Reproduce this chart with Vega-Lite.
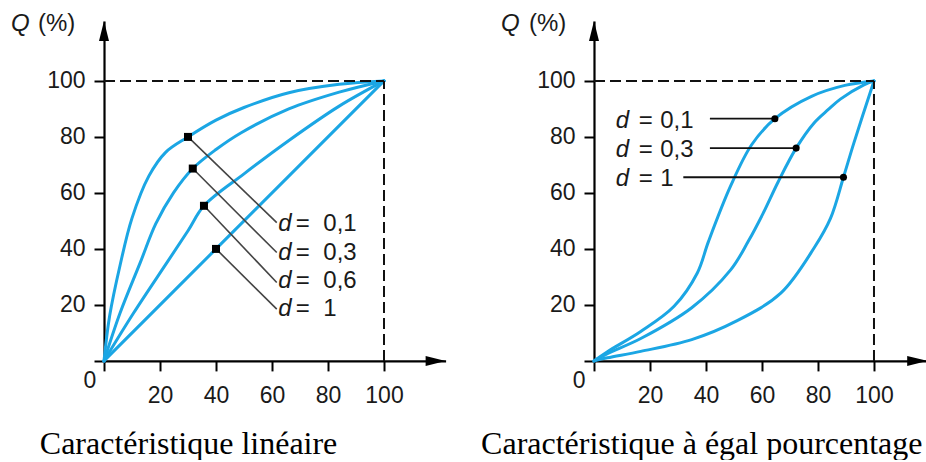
{
  "$schema": "https://vega.github.io/schema/vega-lite/v6.json",
  "background": "white",
  "padding": {"left": 11, "top": 11, "right": 0, "bottom": 0},
  "spacing": 35,
  "config": {"view": {"stroke": null}},
  "datasets": {
    "lineaire": [
      {"d": "0,1", "x": 0, "q": 0}, {"d": "0,1", "x": 2, "q": 16}, {"d": "0,1", "x": 5.7, "q": 34},
      {"d": "0,1", "x": 10, "q": 51}, {"d": "0,1", "x": 16, "q": 66}, {"d": "0,1", "x": 22, "q": 74.5},
      {"d": "0,1", "x": 30, "q": 80}, {"d": "0,1", "x": 40, "q": 86}, {"d": "0,1", "x": 50, "q": 90.5},
      {"d": "0,1", "x": 66, "q": 95.8}, {"d": "0,1", "x": 84, "q": 98.8}, {"d": "0,1", "x": 100, "q": 100},
      {"d": "0,3", "x": 0, "q": 0}, {"d": "0,3", "x": 5.7, "q": 17}, {"d": "0,3", "x": 12.9, "q": 35},
      {"d": "0,3", "x": 18.5, "q": 49}, {"d": "0,3", "x": 24.8, "q": 60}, {"d": "0,3", "x": 31.7, "q": 68.7},
      {"d": "0,3", "x": 40, "q": 75.5}, {"d": "0,3", "x": 49, "q": 81.5}, {"d": "0,3", "x": 66, "q": 90},
      {"d": "0,3", "x": 84, "q": 96}, {"d": "0,3", "x": 100, "q": 100},
      {"d": "0,6", "x": 0, "q": 0}, {"d": "0,6", "x": 10.5, "q": 17}, {"d": "0,6", "x": 22.4, "q": 35},
      {"d": "0,6", "x": 30, "q": 46.5}, {"d": "0,6", "x": 35.7, "q": 55.4}, {"d": "0,6", "x": 50, "q": 66.8},
      {"d": "0,6", "x": 66.4, "q": 79}, {"d": "0,6", "x": 84, "q": 91}, {"d": "0,6", "x": 100, "q": 100},
      {"d": "1", "x": 0, "q": 0}, {"d": "1", "x": 40, "q": 40}, {"d": "1", "x": 100, "q": 100}
    ],
    "lineaire_labels": [
      {"d": "0,1", "mx": 30, "my": 80, "lx": 61.7, "ly": 49.4, "tx": 62.25, "ty": 46.5},
      {"d": "0,3", "mx": 31.7, "my": 68.7, "lx": 61.7, "ly": 38.7, "tx": 62.25, "ty": 36.2},
      {"d": "0,6", "mx": 35.7, "my": 55.4, "lx": 61.7, "ly": 28, "tx": 62.25, "ty": 25.9},
      {"d": "1", "mx": 40, "my": 40, "lx": 61.7, "ly": 18.5, "tx": 62.25, "ty": 15.9}
    ],
    "egal": [
      {"d": "0,1", "x": 0, "q": 0}, {"d": "0,1", "x": 4.8, "q": 3.3}, {"d": "0,1", "x": 16.7, "q": 10.5},
      {"d": "0,1", "x": 28.6, "q": 19.5}, {"d": "0,1", "x": 36.9, "q": 31.4}, {"d": "0,1", "x": 40.9, "q": 42.7},
      {"d": "0,1", "x": 48.8, "q": 62.5}, {"d": "0,1", "x": 56.3, "q": 77.2}, {"d": "0,1", "x": 64.6, "q": 86.5},
      {"d": "0,1", "x": 77.7, "q": 94.5}, {"d": "0,1", "x": 89.6, "q": 98.4}, {"d": "0,1", "x": 100, "q": 100},
      {"d": "0,3", "x": 0, "q": 0}, {"d": "0,3", "x": 4.8, "q": 2.6}, {"d": "0,3", "x": 16.7, "q": 8},
      {"d": "0,3", "x": 34.9, "q": 19}, {"d": "0,3", "x": 48.8, "q": 32.5}, {"d": "0,3", "x": 55.1, "q": 42.7},
      {"d": "0,3", "x": 60.3, "q": 52.5}, {"d": "0,3", "x": 65.8, "q": 64}, {"d": "0,3", "x": 72.2, "q": 76},
      {"d": "0,3", "x": 78.6, "q": 85}, {"d": "0,3", "x": 83.7, "q": 89.8}, {"d": "0,3", "x": 88, "q": 93.5},
      {"d": "0,3", "x": 96.4, "q": 98.6}, {"d": "0,3", "x": 100, "q": 100},
      {"d": "1", "x": 0, "q": 0}, {"d": "1", "x": 4.8, "q": 1.1}, {"d": "1", "x": 16.7, "q": 3.4},
      {"d": "1", "x": 34.9, "q": 7.6}, {"d": "1", "x": 50.6, "q": 14.1}, {"d": "1", "x": 66.7, "q": 24.2},
      {"d": "1", "x": 78.7, "q": 40.5}, {"d": "1", "x": 84.5, "q": 51}, {"d": "1", "x": 89.1, "q": 65.6},
      {"d": "1", "x": 92.8, "q": 77.8}, {"d": "1", "x": 100, "q": 100}
    ],
    "egal_labels": [
      {"d": "0,1", "mx": 64.6, "my": 86.5, "lx": 41.4, "tx": 7.75, "ty": 83.1},
      {"d": "0,3", "mx": 72.2, "my": 76, "lx": 41.4, "tx": 7.75, "ty": 72.7},
      {"d": "1", "mx": 89.1, "my": 65.6, "lx": 31.9, "tx": 7.75, "ty": 62.6}
    ]
  },
  "hconcat": [
    {
      "width": 341.6,
      "height": 339.92,
      "resolve": {"axis": {"x": "independent", "y": "independent"}},
      "layer": [
        {
          "data": {"name": "lineaire"},
          "mark": {"type": "line", "interpolate": "catmull-rom", "strokeWidth": 3, "color": "#1ba6e4", "strokeCap": "round"},
          "encoding": {
            "x": {
              "field": "x", "type": "quantitative",
              "scale": {"domain": [0, 122], "nice": false},
              "axis": {"values": [0, 20, 40, 60, 80, 100], "labelExpr": "datum.value === 0 ? '' : datum.label", "title": null, "grid": false,
                       "domainColor": "#000", "domainWidth": 2.2, "tickColor": "#000", "tickWidth": 2, "tickSize": 10,
                       "labelFont": "Liberation Sans", "labelFontSize": 23, "labelColor": "#1a1a1a", "labelPadding": 14,
                       "labelFlush": false, "labelOverlap": false}
            },
            "y": {
              "field": "q", "type": "quantitative",
              "scale": {"domain": [0, 121.4], "nice": false},
              "axis": {"values": [0, 20, 40, 60, 80, 100], "labelExpr": "datum.value === 0 ? '' : datum.label", "title": null, "grid": false,
                       "domainColor": "#000", "domainWidth": 2.2, "tickColor": "#000", "tickWidth": 2, "tickSize": 10,
                       "labelFont": "Liberation Sans", "labelFontSize": 23, "labelColor": "#1a1a1a", "labelPadding": 9,
                       "labelFlush": false, "labelOverlap": false}
            },
            "detail": {"field": "d"}
          }
        },
        {
          "data": {"values": [{}]},
          "mark": {"type": "rule", "strokeDash": [11, 5], "strokeWidth": 2, "color": "#111"},
          "encoding": {
            "x": {"datum": 0, "scale": {"domain": [0, 122], "nice": false}, "axis": null},
            "x2": {"datum": 100},
            "y": {"datum": 100, "scale": {"domain": [0, 121.4], "nice": false}, "axis": null}
          }
        },
        {
          "data": {"values": [{}]},
          "mark": {"type": "rule", "strokeDash": [11, 5], "strokeWidth": 2, "color": "#111"},
          "encoding": {
            "x": {"datum": 100, "scale": {"domain": [0, 122], "nice": false}, "axis": null},
            "y": {"datum": 0, "scale": {"domain": [0, 121.4], "nice": false}, "axis": null},
            "y2": {"datum": 100}
          }
        },
        {
          "data": {"name": "lineaire_labels"},
          "mark": {"type": "rule", "color": "#444", "strokeWidth": 1.6},
          "encoding": {
            "x": {"field": "mx", "type": "quantitative", "scale": {"domain": [0, 122], "nice": false}, "axis": null},
            "y": {"field": "my", "type": "quantitative", "scale": {"domain": [0, 121.4], "nice": false}, "axis": null},
            "x2": {"field": "lx"},
            "y2": {"field": "ly"}
          }
        },
        {
          "data": {"name": "lineaire_labels"},
          "mark": {"type": "point", "shape": "square", "filled": true, "size": 64, "color": "#000", "opacity": 1},
          "encoding": {
            "x": {"field": "mx", "type": "quantitative", "scale": {"domain": [0, 122], "nice": false}, "axis": null},
            "y": {"field": "my", "type": "quantitative", "scale": {"domain": [0, 121.4], "nice": false}, "axis": null}
          }
        },
        {
          "data": {"name": "lineaire_labels"},
          "mark": {"type": "text", "text": "d", "font": "Liberation Sans", "fontStyle": "italic", "fontSize": 24, "align": "left", "baseline": "alphabetic", "color": "#1a1a1a"},
          "encoding": {
            "x": {"field": "tx", "type": "quantitative", "scale": {"domain": [0, 122], "nice": false}, "axis": null},
            "y": {"field": "ty", "type": "quantitative", "scale": {"domain": [0, 121.4], "nice": false}, "axis": null}
          }
        },
        {
          "data": {"name": "lineaire_labels"},
          "mark": {"type": "text", "text": "=", "dx": 17.5, "font": "Liberation Sans", "fontSize": 24, "align": "left", "baseline": "alphabetic", "color": "#1a1a1a"},
          "encoding": {
            "x": {"field": "tx", "type": "quantitative", "scale": {"domain": [0, 122], "nice": false}, "axis": null},
            "y": {"field": "ty", "type": "quantitative", "scale": {"domain": [0, 121.4], "nice": false}, "axis": null}
          }
        },
        {
          "data": {"name": "lineaire_labels"},
          "mark": {"type": "text", "dx": 45, "font": "Liberation Sans", "fontSize": 24, "align": "left", "baseline": "alphabetic", "color": "#1a1a1a"},
          "encoding": {
            "x": {"field": "tx", "type": "quantitative", "scale": {"domain": [0, 122], "nice": false}, "axis": null},
            "y": {"field": "ty", "type": "quantitative", "scale": {"domain": [0, 121.4], "nice": false}, "axis": null},
            "text": {"field": "d"}
          }
        },
        {
          "data": {"values": [{}]},
          "mark": {"type": "point", "shape": "M0,0L0.5,2L-0.5,2Z", "filled": true, "size": 400, "color": "#000", "opacity": 1, "strokeWidth": 0},
          "encoding": {
            "x": {"datum": 0, "scale": {"domain": [0, 122], "nice": false}, "axis": null},
            "y": {"datum": 121.4, "scale": {"domain": [0, 121.4], "nice": false}, "axis": null}
          }
        },
        {
          "data": {"values": [{}]},
          "mark": {"type": "point", "shape": "M0,0L-2,-0.5L-2,0.5Z", "filled": true, "size": 400, "color": "#000", "opacity": 1, "strokeWidth": 0},
          "encoding": {
            "x": {"datum": 122, "scale": {"domain": [0, 122], "nice": false}, "axis": null},
            "y": {"datum": 0, "scale": {"domain": [0, 121.4], "nice": false}, "axis": null}
          }
        },
        {
          "data": {"values": [{}]},
          "mark": {"type": "text", "text": "Q", "font": "Liberation Sans", "fontStyle": "italic", "fontSize": 24, "align": "left", "baseline": "alphabetic", "color": "#1a1a1a"},
          "encoding": {
            "x": {"datum": -33.2, "scale": {"domain": [0, 122], "nice": false}, "axis": null},
            "y": {"datum": 117.9, "scale": {"domain": [0, 121.4], "nice": false}, "axis": null}
          }
        },
        {
          "data": {"values": [{}]},
          "mark": {"type": "text", "text": "(%)", "dx": 27, "font": "Liberation Sans", "fontSize": 24, "align": "left", "baseline": "alphabetic", "color": "#1a1a1a"},
          "encoding": {
            "x": {"datum": -33.2, "scale": {"domain": [0, 122], "nice": false}, "axis": null},
            "y": {"datum": 117.9, "scale": {"domain": [0, 121.4], "nice": false}, "axis": null}
          }
        },
        {
          "data": {"values": [{}]},
          "mark": {"type": "text", "text": "0", "font": "Liberation Sans", "fontSize": 23, "align": "center", "baseline": "alphabetic", "color": "#1a1a1a"},
          "encoding": {
            "x": {"datum": -5, "scale": {"domain": [0, 122], "nice": false}, "axis": null},
            "y": {"datum": -9.8, "scale": {"domain": [0, 121.4], "nice": false}, "axis": null}
          }
        },
        {
          "data": {"values": [{}]},
          "mark": {"type": "text", "text": "Caractéristique linéaire", "font": "Liberation Serif", "fontSize": 32, "align": "center", "baseline": "alphabetic", "color": "#000"},
          "encoding": {
            "x": {"datum": 30.2, "scale": {"domain": [0, 122], "nice": false}, "axis": null},
            "y": {"datum": -33.2, "scale": {"domain": [0, 121.4], "nice": false}, "axis": null}
          }
        }
      ]
    },
    {
      "width": 333.2,
      "height": 339.92,
      "resolve": {"axis": {"x": "independent", "y": "independent"}},
      "layer": [
        {
          "data": {"name": "egal"},
          "mark": {"type": "line", "interpolate": "catmull-rom", "strokeWidth": 3, "color": "#1ba6e4", "strokeCap": "round"},
          "encoding": {
            "x": {
              "field": "x", "type": "quantitative",
              "scale": {"domain": [0, 119], "nice": false},
              "axis": {"values": [0, 20, 40, 60, 80, 100], "labelExpr": "datum.value === 0 ? '' : datum.label", "title": null, "grid": false,
                       "domainColor": "#000", "domainWidth": 2.2, "tickColor": "#000", "tickWidth": 2, "tickSize": 10,
                       "labelFont": "Liberation Sans", "labelFontSize": 23, "labelColor": "#1a1a1a", "labelPadding": 14,
                       "labelFlush": false, "labelOverlap": false}
            },
            "y": {
              "field": "q", "type": "quantitative",
              "scale": {"domain": [0, 121.4], "nice": false},
              "axis": {"values": [0, 20, 40, 60, 80, 100], "labelExpr": "datum.value === 0 ? '' : datum.label", "title": null, "grid": false,
                       "domainColor": "#000", "domainWidth": 2.2, "tickColor": "#000", "tickWidth": 2, "tickSize": 10,
                       "labelFont": "Liberation Sans", "labelFontSize": 23, "labelColor": "#1a1a1a", "labelPadding": 9,
                       "labelFlush": false, "labelOverlap": false}
            },
            "detail": {"field": "d"}
          }
        },
        {
          "data": {"values": [{}]},
          "mark": {"type": "rule", "strokeDash": [11, 5], "strokeWidth": 2, "color": "#111"},
          "encoding": {
            "x": {"datum": 0, "scale": {"domain": [0, 119], "nice": false}, "axis": null},
            "x2": {"datum": 100},
            "y": {"datum": 100, "scale": {"domain": [0, 121.4], "nice": false}, "axis": null}
          }
        },
        {
          "data": {"values": [{}]},
          "mark": {"type": "rule", "strokeDash": [11, 5], "strokeWidth": 2, "color": "#111"},
          "encoding": {
            "x": {"datum": 100, "scale": {"domain": [0, 119], "nice": false}, "axis": null},
            "y": {"datum": 0, "scale": {"domain": [0, 121.4], "nice": false}, "axis": null},
            "y2": {"datum": 100}
          }
        },
        {
          "data": {"name": "egal_labels"},
          "mark": {"type": "rule", "color": "#111", "strokeWidth": 1.8},
          "encoding": {
            "x": {"field": "lx", "type": "quantitative", "scale": {"domain": [0, 119], "nice": false}, "axis": null},
            "x2": {"field": "mx"},
            "y": {"field": "my", "type": "quantitative", "scale": {"domain": [0, 121.4], "nice": false}, "axis": null}
          }
        },
        {
          "data": {"name": "egal_labels"},
          "mark": {"type": "point", "shape": "circle", "filled": true, "size": 50, "color": "#000", "opacity": 1},
          "encoding": {
            "x": {"field": "mx", "type": "quantitative", "scale": {"domain": [0, 119], "nice": false}, "axis": null},
            "y": {"field": "my", "type": "quantitative", "scale": {"domain": [0, 121.4], "nice": false}, "axis": null}
          }
        },
        {
          "data": {"name": "egal_labels"},
          "mark": {"type": "text", "text": "d", "font": "Liberation Sans", "fontStyle": "italic", "fontSize": 24, "align": "left", "baseline": "alphabetic", "color": "#1a1a1a"},
          "encoding": {
            "x": {"field": "tx", "type": "quantitative", "scale": {"domain": [0, 119], "nice": false}, "axis": null},
            "y": {"field": "ty", "type": "quantitative", "scale": {"domain": [0, 121.4], "nice": false}, "axis": null}
          }
        },
        {
          "data": {"name": "egal_labels"},
          "mark": {"type": "text", "text": "=", "dx": 23, "font": "Liberation Sans", "fontSize": 24, "align": "left", "baseline": "alphabetic", "color": "#1a1a1a"},
          "encoding": {
            "x": {"field": "tx", "type": "quantitative", "scale": {"domain": [0, 119], "nice": false}, "axis": null},
            "y": {"field": "ty", "type": "quantitative", "scale": {"domain": [0, 121.4], "nice": false}, "axis": null}
          }
        },
        {
          "data": {"name": "egal_labels"},
          "mark": {"type": "text", "dx": 44.5, "font": "Liberation Sans", "fontSize": 24, "align": "left", "baseline": "alphabetic", "color": "#1a1a1a"},
          "encoding": {
            "x": {"field": "tx", "type": "quantitative", "scale": {"domain": [0, 119], "nice": false}, "axis": null},
            "y": {"field": "ty", "type": "quantitative", "scale": {"domain": [0, 121.4], "nice": false}, "axis": null},
            "text": {"field": "d"}
          }
        },
        {
          "data": {"values": [{}]},
          "mark": {"type": "point", "shape": "M0,0L0.5,2L-0.5,2Z", "filled": true, "size": 400, "color": "#000", "opacity": 1, "strokeWidth": 0},
          "encoding": {
            "x": {"datum": 0, "scale": {"domain": [0, 119], "nice": false}, "axis": null},
            "y": {"datum": 121.4, "scale": {"domain": [0, 121.4], "nice": false}, "axis": null}
          }
        },
        {
          "data": {"values": [{}]},
          "mark": {"type": "point", "shape": "M0,0L-2,-0.5L-2,0.5Z", "filled": true, "size": 400, "color": "#000", "opacity": 1, "strokeWidth": 0},
          "encoding": {
            "x": {"datum": 119, "scale": {"domain": [0, 119], "nice": false}, "axis": null},
            "y": {"datum": 0, "scale": {"domain": [0, 121.4], "nice": false}, "axis": null}
          }
        },
        {
          "data": {"values": [{}]},
          "mark": {"type": "text", "text": "Q", "font": "Liberation Sans", "fontStyle": "italic", "fontSize": 24, "align": "left", "baseline": "alphabetic", "color": "#1a1a1a"},
          "encoding": {
            "x": {"datum": -33.2, "scale": {"domain": [0, 119], "nice": false}, "axis": null},
            "y": {"datum": 117.9, "scale": {"domain": [0, 121.4], "nice": false}, "axis": null}
          }
        },
        {
          "data": {"values": [{}]},
          "mark": {"type": "text", "text": "(%)", "dx": 28, "font": "Liberation Sans", "fontSize": 24, "align": "left", "baseline": "alphabetic", "color": "#1a1a1a"},
          "encoding": {
            "x": {"datum": -33.2, "scale": {"domain": [0, 119], "nice": false}, "axis": null},
            "y": {"datum": 117.9, "scale": {"domain": [0, 121.4], "nice": false}, "axis": null}
          }
        },
        {
          "data": {"values": [{}]},
          "mark": {"type": "text", "text": "0", "font": "Liberation Sans", "fontSize": 23, "align": "center", "baseline": "alphabetic", "color": "#1a1a1a"},
          "encoding": {
            "x": {"datum": -5.3, "scale": {"domain": [0, 119], "nice": false}, "axis": null},
            "y": {"datum": -9.8, "scale": {"domain": [0, 121.4], "nice": false}, "axis": null}
          }
        },
        {
          "data": {"values": [{}]},
          "mark": {"type": "text", "text": "Caractéristique à égal pourcentage", "font": "Liberation Serif", "fontSize": 32, "align": "center", "baseline": "alphabetic", "color": "#000"},
          "encoding": {
            "x": {"datum": 38.5, "scale": {"domain": [0, 119], "nice": false}, "axis": null},
            "y": {"datum": -33.2, "scale": {"domain": [0, 121.4], "nice": false}, "axis": null}
          }
        }
      ]
    }
  ]
}
